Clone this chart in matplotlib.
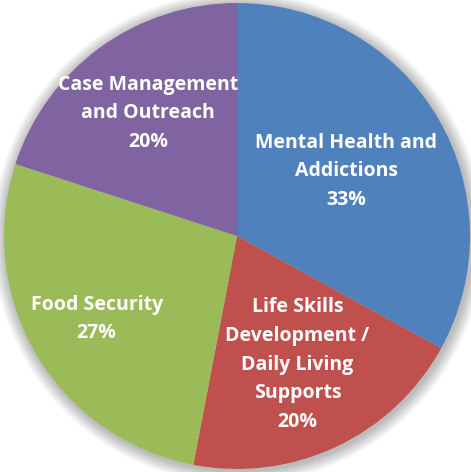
import matplotlib.pyplot as plt
from matplotlib.patches import Circle
import numpy as np

# data
categories = ['Mental Health and\nAddictions', 'Life Skills\nDevelopment /\nDaily Living\nSupports',
              'Food Security', 'Case Management\nand Outreach']
shares = [33, 20, 27, 20]
colors = ['#4F81BD', '#C0504D', '#9BBB59', '#8064A2']
label_dist = [0.545, 0.61, 0.70, 0.65]

fig = plt.figure(figsize=(4.71, 4.72), dpi=100)
ax = fig.add_axes([0, 0, 1, 1])

# soft shadow around the pie
for i in range(14):
    r = 1.0 + 0.004 * (14 - i)
    ax.add_patch(Circle((0.006, -0.008), r, facecolor='#000000', alpha=0.018,
                        edgecolor='none', zorder=0))

wedges, _ = ax.pie(shares, colors=colors, startangle=90, counterclock=False,
                   radius=1.0, wedgeprops=dict(linewidth=0))

for w, cat, s, d in zip(wedges, categories, shares, label_dist):
    ang = np.deg2rad((w.theta1 + w.theta2) / 2)
    ax.text(d * np.cos(ang), d * np.sin(ang), f'{cat}\n{s}%', color='white',
            fontsize=14, fontweight='bold', family='Open Sans',
            ha='center', va='center', linespacing=1.58)

ax.set_xlim(-1.017, 1.004)
ax.set_ylim(-1.013, 1.013)
ax.set_aspect('equal')
ax.axis('off')

fig.savefig('out.png', dpi=100, facecolor='white')
